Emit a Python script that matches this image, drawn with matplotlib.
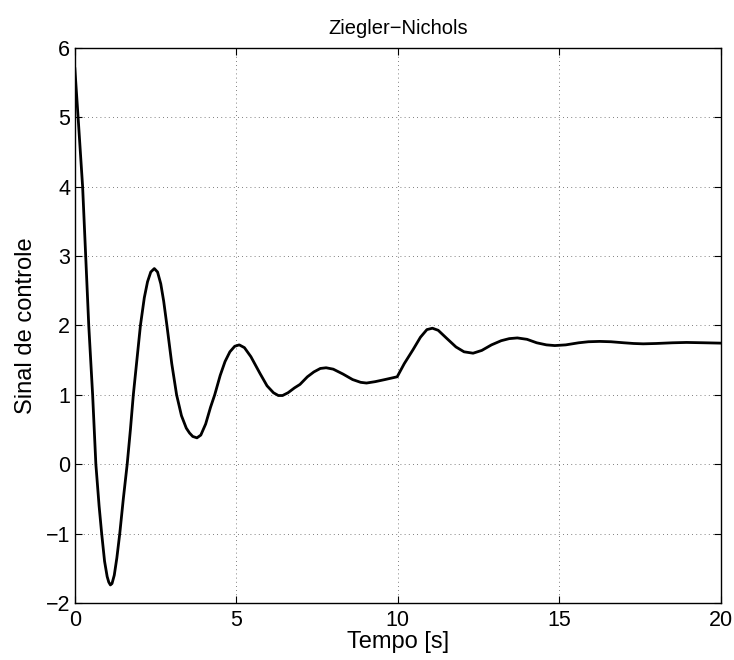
import matplotlib
matplotlib.use('Agg')
import matplotlib.pyplot as plt

# Control signal (time in s, signal)
tempo = [0.00, 0.10, 0.24, 0.34, 0.43, 0.55, 0.65, 0.75, 0.83, 0.92,
         1.00, 1.05, 1.10, 1.15, 1.22, 1.30, 1.39, 1.50, 1.62, 1.72,
         1.81, 1.92, 2.03, 2.15, 2.25, 2.35, 2.46, 2.56, 2.66, 2.75,
         2.85, 3.00, 3.15, 3.30, 3.45, 3.55, 3.65, 3.78, 3.90, 4.05,
         4.20, 4.33, 4.50, 4.65, 4.80, 4.95, 5.09, 5.25, 5.45, 5.73,
         5.95, 6.15, 6.30, 6.43, 6.60, 6.80, 6.97, 7.20, 7.40, 7.60,
         7.78, 8.00, 8.30, 8.60, 8.85, 9.03, 9.30, 9.60, 9.98, 10.20,
         10.47, 10.70, 10.90, 11.07, 11.25, 11.50, 11.80, 12.05, 12.33, 12.60,
         12.90, 13.20, 13.45, 13.70, 14.00, 14.30, 14.60, 14.86, 15.20, 15.60,
         15.90, 16.25, 16.60, 17.00, 17.30, 17.60, 18.00, 18.50, 18.94, 19.50,
         20.00]
sinal = [5.70, 5.00, 4.00, 2.95, 2.00, 1.00, 0.00, -0.60, -1.00, -1.40,
         -1.62, -1.70, -1.74, -1.72, -1.60, -1.35, -1.00, -0.50, 0.00, 0.50,
         1.00, 1.50, 2.00, 2.40, 2.63, 2.77, 2.82, 2.77, 2.60, 2.35,
         2.00, 1.45, 1.00, 0.70, 0.52, 0.45, 0.40, 0.38, 0.42, 0.58,
         0.82, 1.00, 1.28, 1.48, 1.62, 1.70, 1.72, 1.68, 1.55, 1.31,
         1.13, 1.03, 0.99, 0.99, 1.03, 1.10, 1.15, 1.26, 1.33, 1.38,
         1.39, 1.37, 1.30, 1.22, 1.18, 1.17, 1.19, 1.22, 1.26, 1.45,
         1.65, 1.83, 1.94, 1.96, 1.93, 1.82, 1.69, 1.62, 1.60, 1.64,
         1.72, 1.78, 1.81, 1.82, 1.80, 1.75, 1.72, 1.71, 1.72, 1.75,
         1.765, 1.77, 1.765, 1.75, 1.74, 1.735, 1.74, 1.75, 1.755, 1.75,
         1.745]

xticks = [0, 5, 10, 15, 20]
yticks = [-2, -1, 0, 1, 2, 3, 4, 5, 6]

plt.rcParams['font.family'] = ['Liberation Sans', 'DejaVu Sans']
plt.rcParams['axes.unicode_minus'] = True

fig = plt.figure(figsize=(7.34, 6.6), dpi=100)
ax = fig.add_axes([0.102, 0.0864, 0.880, 0.841])

ax.plot(tempo, sinal, color='black', linewidth=2.0)

ax.set_xlim(0, 20)
ax.set_ylim(-2, 6)
ax.set_xticks(xticks)
ax.set_yticks(yticks)
ax.tick_params(direction='in', top=True, right=True, length=5, width=0.8,
               labelsize=15.5)
ax.tick_params(axis='x', pad=5)
ax.tick_params(axis='y', pad=3.5)
ax.grid(True, color='#555555', linestyle=(0, (1, 4)), linewidth=0.6)

for s in ax.spines.values():
    s.set_linewidth(1.0)

ax.set_title('Ziegler\u2212Nichols', fontsize=14.5, pad=10)
ax.set_xlabel('Tempo [s]', fontsize=17, labelpad=0)
ax.set_ylabel('Sinal de controle', fontsize=17, labelpad=6)

fig.savefig('out.png', dpi=100)
